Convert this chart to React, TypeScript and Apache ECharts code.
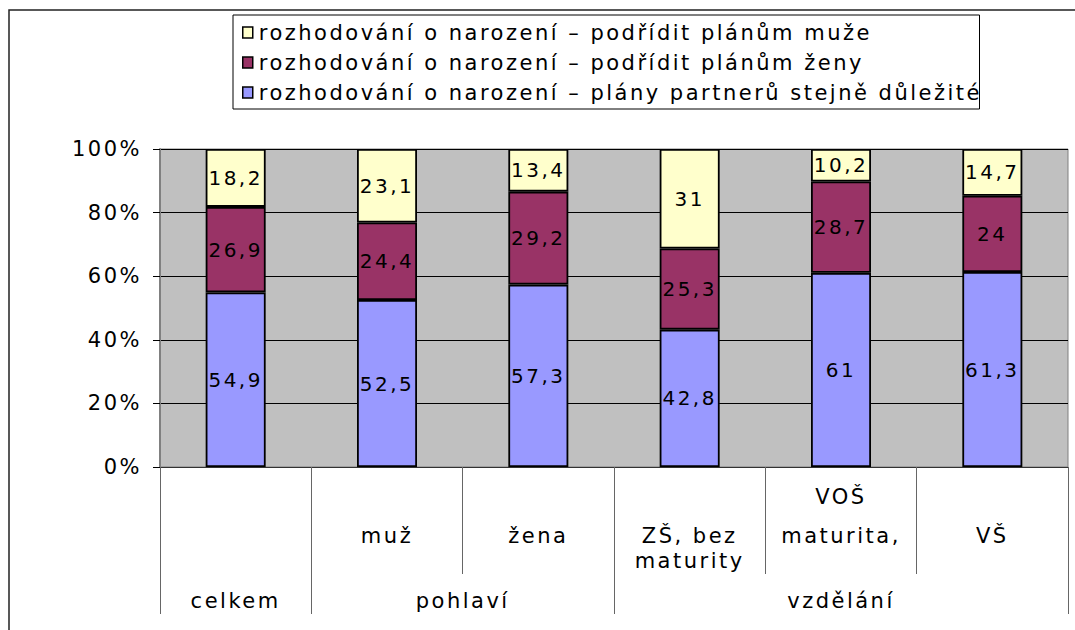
import React, { useEffect, useRef } from "react";
import * as echarts from "echarts";

const subCategories = ["", "muž", "žena", "ZŠ, bez\nmaturity", "maturita,", "VŠ"];
const subCategoriesUpper = ["", "", "", "", "VOŠ", ""];
const groups = ["celkem", "pohlaví", "vzdělání"];
const groupSpans = [1, 2, 3];

const seriesNames = [
  "rozhodování o narození – plány partnerů stejně důležité",
  "rozhodování o narození – podřídit plánům ženy",
  "rozhodování o narození – podřídit plánům muže",
];
const equalPlans = [54.9, 52.5, 57.3, 42.8, 61, 61.3];
const womanPlans = [26.9, 24.4, 29.2, 25.3, 28.7, 24];
const manPlans = [18.2, 23.1, 13.4, 31, 10.2, 14.7];
const colors = ["#9999FF", "#993366", "#FFFFCC"];
const yTicks = [0, 20, 40, 60, 80, 100];

const FONT = "DejaVu Sans, Verdana, sans-serif";
const FS = 21;
const LS = 2.5; // letter spacing applied through CSS to svg text
const LEGEND_LS = 2.6;

export default function App() {
  const ref = useRef<HTMLDivElement>(null);
  useEffect(() => {
    if (!ref.current) return;
    const chart = echarts.init(ref.current, null, { renderer: "svg" });
    const raw = [equalPlans, womanPlans, manPlans];
    const totals = equalPlans.map((_, i) => equalPlans[i] + womanPlans[i] + manPlans[i]);
    const fmt = (v: number) => String(v).replace(".", ",");

    const bounds: number[] = [0];
    groupSpans.forEach((s) => bounds.push(bounds[bounds.length - 1] + s));
    const centers = groupSpans.map((s, i) => bounds[i] + s / 2);
    const longest = Math.max(...seriesNames.map((s) => s.length));

    const series = raw.map((arr, k) => ({
      name: seriesNames[k],
      type: "bar",
      stack: "total",
      xAxisIndex: 0,
      barWidth: 60,
      data: arr.map((v, i) => (v / totals[i]) * 100),
      itemStyle: { color: colors[k], borderColor: "#000", borderWidth: 1.8 },
      label: {
        show: true,
        position: "inside",
        color: "#000",
        fontFamily: FONT,
        fontSize: 20,
        formatter: (p: any) => fmt(arr[p.dataIndex]),
      },
    }));

    chart.setOption({
      animation: false,
      backgroundColor: "#fff",
      textStyle: { fontFamily: FONT },
      grid: {
        left: 160,
        right: 7,
        top: 149,
        bottom: 163,
        show: true,
        backgroundColor: "#C0C0C0",
        borderColor: "#808080",
        borderWidth: 1,
      },
      legend: {
        orient: "vertical",
        left: 233,
        top: 15,
        padding: [7, 8 + longest * LEGEND_LS - 16, 6, 9],
        itemGap: 9,
        itemWidth: 10,
        itemHeight: 11,
        icon: "rect",
        backgroundColor: "#fff",
        borderColor: "#000",
        borderWidth: 1,
        data: [seriesNames[2], seriesNames[1], seriesNames[0]],
        itemStyle: { borderColor: "#000", borderWidth: 1.5 },
        textStyle: { fontFamily: FONT, fontSize: FS, color: "#000", padding: [0, 0, 0, 1] },
      },
      xAxis: [
        {
          type: "category",
          data: subCategories,
          position: "bottom",
          axisLine: { show: true, lineStyle: { color: "#333", width: 1 } },
          axisTick: { show: true, interval: 0, length: 107, lineStyle: { color: "#666" } },
          axisLabel: {
            interval: 0,
            margin: 56,
            color: "#000",
            fontFamily: FONT,
            fontSize: FS,
            lineHeight: 25,
          },
          splitLine: { show: false },
        },
        {
          type: "category",
          data: subCategoriesUpper,
          position: "bottom",
          axisLine: { show: false },
          axisTick: { show: false },
          axisLabel: {
            interval: 0,
            margin: 17,
            color: "#000",
            fontFamily: FONT,
            fontSize: FS,
            lineHeight: 25,
          },
          splitLine: { show: false },
        },
        {
          type: "value",
          min: 0,
          max: subCategories.length,
          position: "bottom",
          axisLine: { show: false },
          splitLine: { show: false },
          axisTick: { show: true, customValues: bounds, length: 147, lineStyle: { color: "#666" } },
          axisLabel: {
            customValues: centers,
            margin: 121,
            color: "#000",
            fontFamily: FONT,
            fontSize: FS,
            lineHeight: 25,
            formatter: (v: number) => {
              const idx = centers.findIndex((c) => Math.abs(c - v) < 1e-6);
              return idx >= 0 ? groups[idx] : "";
            },
          },
        },
      ],
      yAxis: {
        type: "value",
        min: yTicks[0],
        max: yTicks[yTicks.length - 1],
        interval: 20,
        axisLine: { show: true, lineStyle: { color: "#808080", width: 2 } },
        axisTick: { show: true, length: 7, lineStyle: { color: "#000" } },
        axisLabel: {
          margin: 18,
          color: "#000",
          fontFamily: FONT,
          fontSize: FS,
          formatter: "{value}%",
        },
        splitLine: { show: true, lineStyle: { color: "#000", width: 1 } },
      },
      graphic: [
        {
          type: "rect",
          shape: { x: 9, y: 10, width: 1100, height: 700 },
          style: { fill: "none", stroke: "#222", lineWidth: 1.5 },
          silent: true,
          z: 100,
        },
      ],
      series,
    });
    return () => chart.dispose();
  }, []);
  return (
    <>
      <style>{`.chart-root svg text { letter-spacing: ${LS}px; }`}</style>
      <div
        ref={ref}
        className="chart-root"
        style={{ position: "absolute", left: 0, top: 0, width: 1075, height: 630 }}
      />
    </>
  );
}
